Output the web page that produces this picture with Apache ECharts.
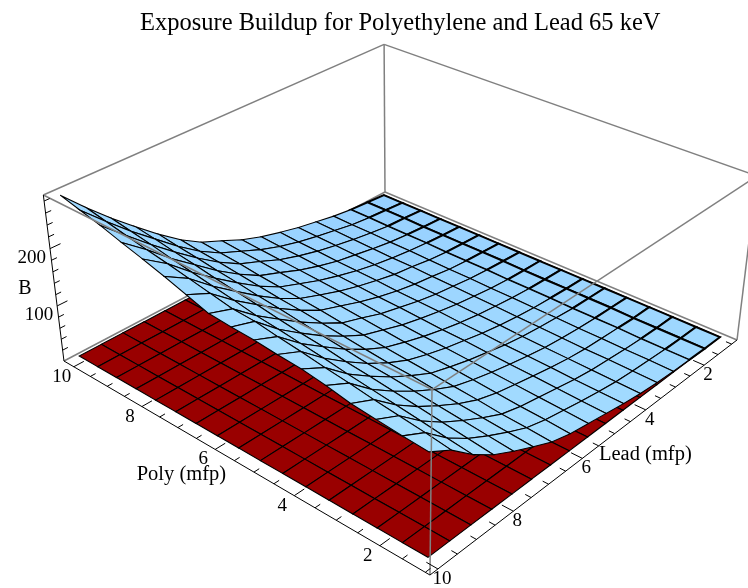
<!DOCTYPE html>
<html>
<head>
<meta charset="utf-8">
<title>Exposure Buildup</title>
<style>html,body{margin:0;padding:0;background:#fff}#main{width:748px;height:588px}</style>
<script src="https://cdn.jsdelivr.net/npm/echarts@6/dist/echarts.min.js"></script>
</head>
<body>
<div id="main"></div>
<script>
// mesh positions, in axis units
var polyMesh = [1.2, 1.76, 2.33, 2.89, 3.45, 4.01, 4.58, 5.14, 5.7, 6.26, 6.83, 7.39, 7.95, 8.51, 9.08, 9.64, 10.2];
var leadMesh = [0.95, 1.51, 2.07, 2.63, 3.19, 3.75, 4.31, 4.87, 5.43, 5.99, 6.55, 7.1, 7.66, 8.22, 8.78, 9.34, 9.9];

// B, one row per polyMesh value, one column per leadMesh value
var buildup = [
    [1, 1, 2, 3, 5, 8, 13, 19, 25, 31, 41, 57, 74, 93, 118, 150, 172],
    [1, 1, 2, 4, 6, 9, 14, 20, 27, 34, 44, 60, 78, 98, 123, 156, 175],
    [1, 1, 2, 4, 7, 10, 15, 22, 29, 36, 46, 63, 82, 103, 129, 161, 179],
    [1, 1, 3, 5, 7, 11, 17, 24, 31, 39, 50, 66, 86, 108, 134, 166, 183],
    [1, 2, 3, 5, 8, 12, 18, 25, 33, 42, 53, 70, 90, 113, 139, 172, 191],
    [1, 2, 3, 6, 9, 13, 19, 27, 35, 45, 56, 74, 94, 118, 144, 177, 197],
    [1, 2, 4, 6, 10, 15, 21, 29, 37, 47, 59, 76, 97, 122, 150, 183, 200],
    [1, 2, 4, 7, 11, 16, 22, 30, 39, 50, 62, 80, 102, 128, 155, 188, 204],
    [1, 2, 4, 7, 12, 17, 24, 32, 41, 53, 65, 84, 106, 132, 160, 194, 206],
    [1, 3, 5, 8, 13, 18, 25, 34, 43, 56, 68, 88, 111, 137, 164, 196, 209],
    [1, 3, 5, 8, 14, 19, 26, 35, 46, 59, 72, 92, 116, 143, 171, 203, 221],
    [1, 3, 5, 9, 15, 20, 28, 37, 48, 61, 75, 95, 120, 148, 177, 210, 233],
    [1, 3, 6, 10, 15, 21, 29, 39, 50, 64, 78, 99, 125, 153, 183, 217, 244],
    [1, 3, 6, 10, 16, 23, 30, 40, 52, 67, 81, 103, 129, 159, 189, 223, 254],
    [1, 4, 6, 11, 17, 24, 32, 42, 54, 70, 85, 107, 134, 164, 196, 230, 265],
    [1, 4, 7, 11, 18, 25, 33, 43, 56, 72, 88, 110, 138, 170, 202, 237, 274],
    [1, 4, 7, 12, 19, 26, 35, 45, 58, 75, 91, 114, 143, 175, 208, 244, 283]
];
var floorLevel = 1;

var polyTicks = [2, 4, 6, 8, 10];
var leadTicks = [2, 4, 6, 8, 10];
var bTicks = [100, 200];
var polyMinor = [1, 1.5, 2.5, 3, 3.5, 4.5, 5, 5.5, 6.5, 7, 7.5, 8.5, 9, 9.5];
var leadMinor = [1, 1.5, 2.5, 3, 3.5, 4.5, 5, 5.5, 6.5, 7, 7.5, 8.5, 9, 9.5];
var bMinor = [20, 40, 60, 80, 120, 140, 160, 180, 220, 240, 260, 280];

var polyRange = [0.9, 10.3];
var leadRange = [0.8, 10.2];
var bRange = [0, 290];

// camera, fitted to the corners of the box
var camera = [
    [-289.6, -384.6, -22.7, 737],
    [-116.9, 131.3, -174, 340],
    [0.1621, -0.1804, -0.0564, 1]
];

function project(poly, lead, b) {
    var u = (poly - polyRange[0]) / (polyRange[1] - polyRange[0]);
    var v = (lead - leadRange[0]) / (leadRange[1] - leadRange[0]);
    var w = (b - bRange[0]) / (bRange[1] - bRange[0]);
    var q = [u, v, w, 1];
    function row(r) {
        return r[0] * q[0] + r[1] * q[1] + r[2] * q[2] + r[3] * q[3];
    }
    var d = row(camera[2]);
    return [row(camera[0]) / d, row(camera[1]) / d];
}

// far cells first so near ones paint over them
var cells = [];
for (var i = polyMesh.length - 2; i >= 0; i--) {
    for (var j = 0; j < leadMesh.length - 1; j++) {
        cells.push([i, j]);
    }
}

function surfaceSeries(fillAt, heightAt, isBlue) {
    return {
        type: 'custom',
        coordinateSystem: 'cartesian2d',
        silent: true,
        clip: false,
        animation: false,
        data: cells,
        encode: {x: 0, y: 1},
        renderItem: function (params, api) {
            var i = api.value(0), j = api.value(1);
            var corners = [[i, j], [i + 1, j], [i + 1, j + 1], [i, j + 1]].map(function (c) {
                var p = project(polyMesh[c[0]], leadMesh[c[1]], heightAt(c[0], c[1]));
                return api.coord(p);
            });
            return {
                type: 'polygon',
                shape: {points: corners},
                style: {
                    fill: fillAt(i, j),
                    stroke: '#000',
                    lineWidth: isBlue && j < 2 ? 2 : 1.1
                }
            };
        }
    };
}

// straight segments given in axis units: [poly, lead, b, poly, lead, b]
function segmentSeries(segments, color, width) {
    return {
        type: 'custom',
        coordinateSystem: 'cartesian2d',
        silent: true,
        clip: false,
        animation: false,
        data: segments,
        encode: {x: 0, y: 1},
        renderItem: function (params, api) {
            var s = segments[params.dataIndex];
            var a = api.coord(project(s[0], s[1], s[2]));
            var b = api.coord(project(s[3], s[4], s[5]));
            return {
                type: 'line',
                shape: {x1: a[0], y1: a[1], x2: b[0], y2: b[1]},
                style: {stroke: color, lineWidth: width}
            };
        }
    };
}

// labels given in axis units plus a pixel offset
function labelSeries(items) {
    return {
        type: 'custom',
        coordinateSystem: 'cartesian2d',
        silent: true,
        clip: false,
        animation: false,
        data: items,
        encode: {x: 0, y: 1},
        renderItem: function (params, api) {
            var t = items[params.dataIndex];
            var p = api.coord(project(t.at[0], t.at[1], t.at[2]));
            return {
                type: 'text',
                x: p[0] + t.dx,
                y: p[1] + t.dy,
                style: {
                    text: t.text,
                    fontFamily: 'Liberation Serif',
                    fontSize: t.size || 19,
                    fill: '#000',
                    align: t.align || 'center',
                    verticalAlign: 'middle'
                }
            };
        }
    };
}

var P0 = polyRange[0], P1 = polyRange[1], L0 = leadRange[0], L1 = leadRange[1], B0 = bRange[0], B1 = bRange[1];

var backEdges = [
    [P1, L1, B1, P1, L0, B1],
    [P1, L0, B1, P0, L0, B1],
    [P1, L0, B0, P1, L0, B1],
    [P0, L0, B0, P0, L0, B1],
    [P1, L1, B0, P1, L0, B0],
    [P1, L0, B0, P0, L0, B0]
];
var frontEdges = [
    [P1, L1, B1, P0, L1, B1],
    [P0, L1, B1, P0, L0, B1],
    [P0, L1, B0, P0, L1, B1]
];

var axisLines = [
    [P1, L1, B0, P0, L1, B0],
    [P0, L1, B0, P0, L0, B0],
    [P1, L1, B0, P1, L1, B1]
];
polyTicks.forEach(function (t) { axisLines.push([t, L1, B0, t, L1 - 0.25, B0]); });
polyMinor.forEach(function (t) { axisLines.push([t, L1, B0, t, L1 - 0.13, B0]); });
leadTicks.forEach(function (t) { axisLines.push([P0, t, B0, P0 + 0.25, t, B0]); });
leadMinor.forEach(function (t) { axisLines.push([P0, t, B0, P0 + 0.13, t, B0]); });
bTicks.forEach(function (t) { axisLines.push([P1, L1, t, P1, L1 - 0.25, t]); });
bMinor.forEach(function (t) { axisLines.push([P1, L1, t, P1, L1 - 0.13, t]); });

var labels = [];
polyTicks.forEach(function (t) {
    labels.push({at: [t, L1, B0], dx: -12, dy: 10, text: String(t)});
});
leadTicks.forEach(function (t) {
    labels.push({at: [P0, t, B0], dx: 4, dy: 10, text: String(t)});
});
bTicks.forEach(function (t) {
    labels.push({at: [P1, L1, t], dx: -4, dy: 9, text: String(t), align: 'right'});
});
labels.push({at: [6.1, L1, B0], dx: -30, dy: 27, text: 'Poly (mfp)', size: 20.5});
labels.push({at: [P0, 5.2, B0], dx: 37, dy: 16, text: 'Lead (mfp)', size: 20.5});
labels.push({at: [P1, L1, 130], dx: -30, dy: 0, text: 'B', size: 20});

var chart = echarts.init(document.getElementById('main'));
chart.setOption({
    animation: false,
    backgroundColor: '#ffffff',
    title: {
        text: 'Exposure Buildup for Polyethylene and Lead 65 keV',
        left: 135,
        top: 6,
        textStyle: {fontFamily: 'Liberation Serif', fontWeight: 'normal', fontSize: 24.5, color: '#000'}
    },
    grid: {left: 0, right: 0, top: 0, bottom: 0},
    xAxis: {type: 'value', min: 0, max: 748, show: false},
    yAxis: {type: 'value', min: 0, max: 588, inverse: true, show: false},
    series: [
        segmentSeries(backEdges, '#808080', 1.5),
        surfaceSeries(function () { return '#990000'; }, function () { return floorLevel; }, false),
        surfaceSeries(function (i, j) {
            // lighter towards the front corner
            return echarts.color.lerp((j + 16 - i) / 32, ['#97d0ff', '#a6dfff']);
        }, function (i, j) { return buildup[i][j]; }, true),
        segmentSeries(frontEdges, '#808080', 1.5),
        segmentSeries(axisLines, '#000', 1),
        labelSeries(labels)
    ]
});
</script>
</body>
</html>
